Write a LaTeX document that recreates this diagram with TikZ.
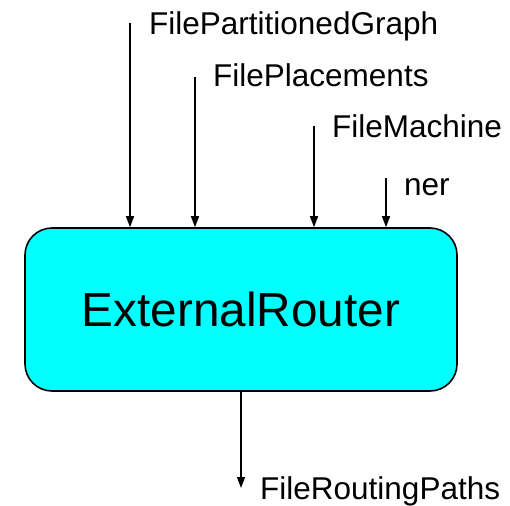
\documentclass[tikz,border=0pt]{standalone}
\usepackage{fontspec}
\setmainfont{Liberation Sans}
\usetikzlibrary{arrows.meta}
\definecolor{routerfill}{RGB}{0,255,255}
\tikzset{
  flow/.style={draw=black, line width=1.4pt, -{Triangle[length=11pt,width=8pt]}},
  lbl/.style={anchor=base west, inner sep=0pt, font=\fontsize{31.5}{36}\selectfont},
  module/.style={draw=black, line width=1.6pt, fill=routerfill, rounded corners=27pt,
    minimum width=432pt, minimum height=163pt, inner sep=0pt,
    font=\fontsize{47.7}{54}\selectfont}
}
\begin{document}
\begin{tikzpicture}[x=1pt,y=-1pt]
  \useasboundingbox (0,0) rectangle (510,505);
  % processing block
  \node[module] (router) at (241,309.5) {ExternalRouter};
  % input streams
  \coordinate (inA) at (130,23);
  \coordinate (inB) at (195,77);
  \coordinate (inC) at (314,126);
  \coordinate (inD) at (386,178);
  \node[lbl] (lA) at (149,35) {FilePartitionedGraph};
  \node[lbl] (lB) at (213,87) {FilePlacements};
  \node[lbl] (lC) at (332,137) {FileMachine};
  \node[lbl] (lD) at (404,195) {ner};
  \draw[flow] (inA) -- (inA |- router.north);
  \draw[flow] (inB) -- (inB |- router.north);
  \draw[flow] (inC) -- (inC |- router.north);
  \draw[flow] (inD) -- (inD |- router.north);
  % output stream
  \coordinate (out) at (241,488);
  \node[lbl] (lOut) at (260,499) {FileRoutingPaths};
  \draw[flow] (router.south) -- (out);
\end{tikzpicture}
\end{document}
